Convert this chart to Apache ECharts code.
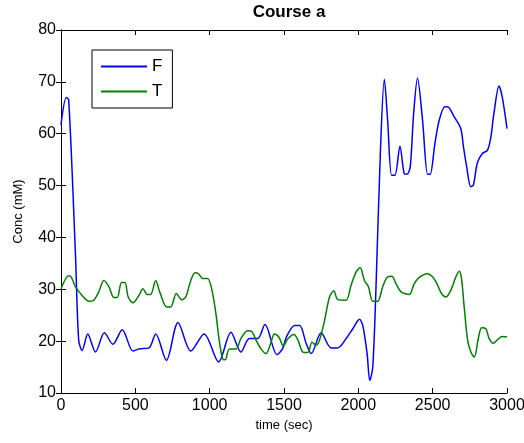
<!DOCTYPE html>
<html>
<head>
<meta charset="utf-8">
<script src="https://cdn.jsdelivr.net/npm/echarts@6/dist/echarts.min.js"></script>
<style>
  html, body { margin: 0; padding: 0; background: #fff; }
  #chart { width: 524px; height: 443px; }
</style>
</head>
<body>
<div id="chart"></div>
<script>
// time (sec) / concentration (mM)
var fTime = [0, 36, 52, 97, 119, 142, 180, 232, 292, 349, 412, 484, 524, 592, 637, 709, 787, 873, 963, 1060,
  1143, 1210, 1267, 1323, 1372, 1453, 1490, 1516, 1572, 1605, 1650, 1683, 1750, 1817, 1862, 1918, 1963, 2008,
  2030, 2059, 2077, 2097, 2119, 2148, 2175, 2197, 2224, 2246, 2280, 2309, 2327, 2349, 2372, 2398, 2432, 2466,
  2483, 2515, 2544, 2582, 2600, 2644, 2689, 2707, 2729, 2756, 2774, 2800, 2834, 2868, 2890, 2912, 2946, 2968, 3000];
var fConc = [61.7, 67, 66.5, 36.9, 20.2, 18.2, 21.4, 17.9, 21.6, 19.4, 22.2, 18.1, 18.5, 18.7, 21.4, 16.3, 23.6, 18.1, 21.4, 16.0,
  21.7, 17.9, 20.5, 20.5, 23.2, 17.4, 18.5, 20.8, 23.0, 23.0, 19.5, 17.6, 21.6, 18.7, 18.7, 20.5, 22.4, 24.2,
  23.0, 17.6, 12.4, 15.0, 30.5, 56.2, 70.5, 62.6, 52.0, 52.0, 57.6, 52.3, 52.2, 53.6, 63.9, 70.7, 62.6, 52.2,
  52.2, 58.1, 62.6, 65.2, 65.2, 63.3, 61.0, 57.5, 53.6, 49.8, 50.1, 54.3, 56.2, 56.8, 59.1, 63.9, 69.2, 67.1, 61.0];

var tTime = [0, 52, 70, 97, 142, 187, 220, 254, 288, 322, 356, 378, 407, 430, 452, 484, 524, 551, 580, 603,
  637, 664, 711, 738, 776, 812, 839, 873, 902, 925, 952, 986, 1015, 1042, 1064, 1087, 1105, 1132, 1177, 1210,
  1255, 1285, 1312, 1345, 1379, 1413, 1435, 1465, 1495, 1527, 1567, 1594, 1627, 1661, 1688, 1717, 1739, 1773,
  1806, 1835, 1862, 1918, 1951, 1985, 2012, 2041, 2068, 2097, 2130, 2164, 2197, 2226, 2253, 2287, 2343, 2376,
  2410, 2466, 2499, 2528, 2559, 2588, 2622, 2656, 2679, 2694, 2712, 2735, 2757, 2780, 2807, 2829, 2858, 2880,
  2909, 2936, 2969, 3000];
var tConc = [30.1, 32.6, 32.3, 30.5, 28.8, 27.7, 27.9, 29.5, 31.7, 30.5, 28.4, 28.4, 31.3, 31.3, 28.5, 27.4, 28.8, 30.1, 29.0, 29.0,
  31.7, 29.5, 26.6, 26.6, 29.2, 28.0, 28.5, 31.7, 33.2, 33.0, 32.1, 32.1, 29.9, 25.3, 20.2, 16.6, 16.4, 18.5, 18.5, 20.5,
  22.0, 21.8, 20.2, 18.5, 17.6, 19.8, 21.4, 20.8, 19.1, 20.5, 21.3, 20.2, 17.9, 17.8, 19.8, 19.2, 20.2, 24.0,
  28.5, 29.7, 28.0, 27.9, 30.8, 33.3, 34.2, 31.7, 30.5, 27.7, 27.7, 30.5, 32.4, 32.5, 31.1, 29.5, 29.0, 31.1,
  32.3, 33.0, 32.4, 31.1, 29.2, 28.5, 29.8, 32.4, 33.5, 32.1, 26.6, 20.2, 17.9, 16.9, 20.5, 22.6, 22.4, 20.5,
  19.6, 20.3, 20.9, 20.8];

function pairs(xs, ys) {
  var out = [];
  for (var i = 0; i < xs.length; i++) out.push([xs[i], ys[i]]);
  return out;
}

var font = 'Liberation Sans, Arial, sans-serif';
var frameAxis = {
  axisLine: { show: true, lineStyle: { color: '#000', width: 1 } },
  axisTick: { show: true, inside: true, length: 5, lineStyle: { color: '#000' } },
  splitLine: { show: false }
};

var chart = echarts.init(document.getElementById('chart'));
chart.setOption({
  backgroundColor: '#fff',
  animation: false,
  title: {
    text: 'Course a',
    left: 284, top: -1, textAlign: 'center',
    textStyle: { fontFamily: font, fontSize: 17, fontWeight: 'bold', color: '#000' }
  },
  legend: {
    orient: 'vertical',
    left: 92, top: 50,
    padding: [8, 10, 8, 8],
    itemGap: 8,
    itemWidth: 46, itemHeight: 12,
    borderColor: '#000', borderWidth: 1,
    backgroundColor: '#fff',
    itemStyle: { opacity: 0 },
    textStyle: { fontFamily: font, fontSize: 17, color: '#000' },
    data: ['F', 'T']
  },
  grid: { left: 61, right: 17, top: 30, bottom: 50, outerBoundsMode: 'none' },
  xAxis: [
    Object.assign({
      type: 'value', min: 0, max: 3000, interval: 500, position: 'bottom',
      name: 'time (sec)', nameLocation: 'middle', nameGap: 24,
      nameTextStyle: { fontFamily: font, fontSize: 13, color: '#000' },
      axisLabel: { fontFamily: font, fontSize: 16, color: '#000', margin: 5,
        formatter: function (v) { return String(v); } }
    }, frameAxis),
    Object.assign({
      type: 'value', min: 0, max: 3000, interval: 500, position: 'top',
      axisLabel: { show: false }
    }, frameAxis)
  ],
  yAxis: [
    Object.assign({
      type: 'value', min: 10, max: 80, interval: 10, position: 'left',
      name: 'Conc (mM)', nameLocation: 'middle', nameGap: 36,
      nameTextStyle: { fontFamily: font, fontSize: 13, color: '#000' },
      axisLabel: { fontFamily: font, fontSize: 16, color: '#000', margin: 5 }
    }, frameAxis),
    Object.assign({
      type: 'value', min: 10, max: 80, interval: 10, position: 'right',
      axisLabel: { show: false }
    }, frameAxis)
  ],
  series: [
    {
      name: 'F', type: 'line', xAxisIndex: 0, yAxisIndex: 0,
      symbol: 'none', smooth: 0.3,
      lineStyle: { color: '#0000ff', width: 1.5 },
      itemStyle: { color: '#0000ff' },
      data: pairs(fTime, fConc)
    },
    {
      name: 'T', type: 'line', xAxisIndex: 0, yAxisIndex: 0,
      symbol: 'none', smooth: 0.3,
      lineStyle: { color: '#008000', width: 1.5 },
      itemStyle: { color: '#008000' },
      data: pairs(tTime, tConc)
    }
  ]
});
</script>
</body>
</html>
